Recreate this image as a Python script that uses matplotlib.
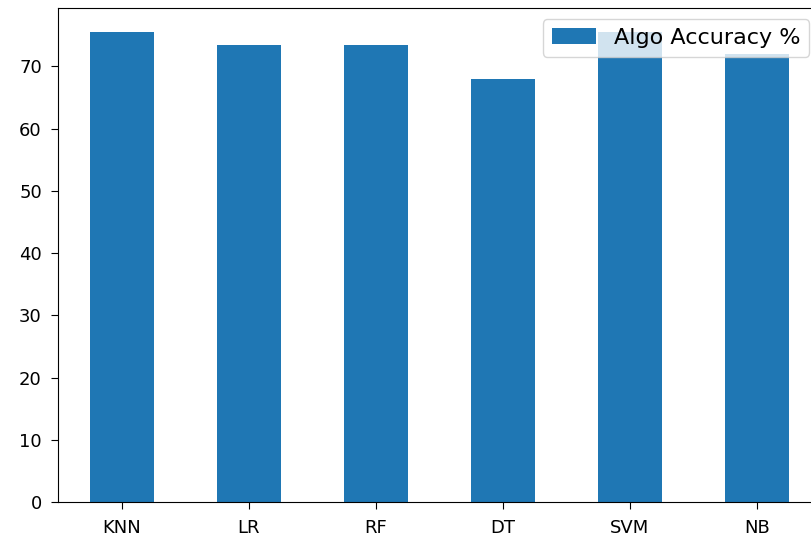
import pandas as pd
import matplotlib
matplotlib.use("Agg")
import matplotlib.pyplot as plt

algos = ["KNN", "LR", "RF", "DT", "SVM", "NB"]
accuracy = [75.6, 73.5, 73.5, 67.9, 75.6, 72.0]

df = pd.DataFrame({"Algo Accuracy %": accuracy}, index=algos)

fig = plt.figure(figsize=(8.12, 5.46), dpi=100)
ax = fig.add_axes([58.5 / 812, 44 / 546, 762 / 812, 494 / 546])
df.plot(kind="bar", ax=ax, rot=0, color="#1f77b4")
ax.tick_params(labelsize=13, length=5)
ax.tick_params(axis="x", pad=7)
ax.tick_params(axis="y", pad=7)
ax.legend(loc="upper right", fontsize=16)

fig.savefig("out.png", dpi=100)
